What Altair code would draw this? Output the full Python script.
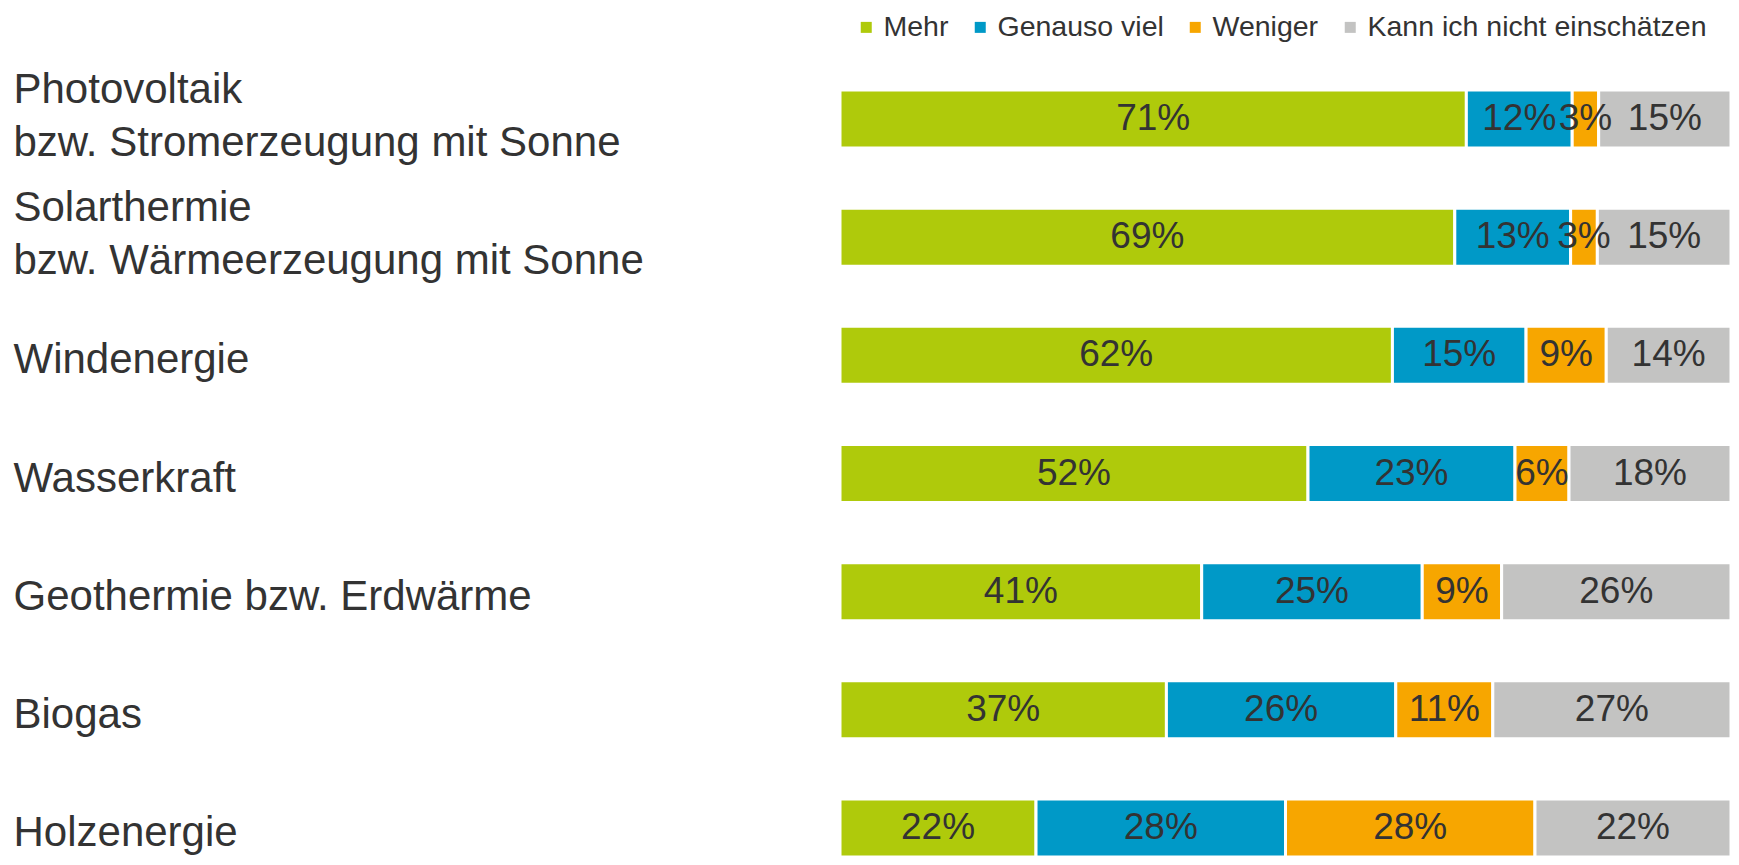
import altair as alt
import pandas as pd

categories = [
    "Photovoltaik\nbzw. Stromerzeugung mit Sonne",
    "Solarthermie\nbzw. Wärmeerzeugung mit Sonne",
    "Windenergie",
    "Wasserkraft",
    "Geothermie bzw. Erdwärme",
    "Biogas",
    "Holzenergie",
]
answers = ["Mehr", "Genauso viel", "Weniger", "Kann ich nicht einschätzen"]
mehr = [71, 69, 62, 52, 41, 37, 22]
genauso = [12, 13, 15, 23, 25, 26, 28]
weniger = [3, 3, 9, 6, 9, 11, 28]
kann_nicht = [15, 15, 14, 18, 26, 27, 22]
colors = ["#AFCA0B", "#0099C7", "#F7A600", "#C3C3C2"]

series = [mehr, genauso, weniger, kann_nicht]
rows = []
for i, cat in enumerate(categories):
    vals = [s[i] for s in series]
    total = sum(vals)
    acc = 0.0
    for j, ans in enumerate(answers):
        start = acc / total
        acc += vals[j]
        end = acc / total
        rows.append({
            "cat": cat, "answer": ans, "order": j, "value": vals[j],
            "start": start, "end": end, "mid": (start + end) / 2,
            "label": f"{vals[j]}%",
        })
df = pd.DataFrame(rows)

y = alt.Y(
    "cat:N", sort=categories, title=None,
    scale=alt.Scale(paddingInner=0.509, paddingOuter=0),
    axis=alt.Axis(
        domain=False, ticks=False, grid=False,
        labelAlign="left", labelPadding=827, labelFontSize=42,
        labelFont="Liberation Sans", labelColor="#333333",
        labelLineHeight=53, labelLimit=0,
        labelOffset={"condition": {"test": "indexof(datum.value, '\\n') >= 0", "value": -29}, "value": 5},
        labelExpr="split(datum.label, '\\n')",
    ),
)
xscale = alt.Scale(domain=[0, 1], nice=False, zero=True)

bars = alt.Chart(df).mark_bar(stroke="white", strokeWidth=3).encode(
    x=alt.X("start:Q", scale=xscale, axis=None),
    x2="end:Q",
    y=y,
    color=alt.Color(
        "answer:N",
        scale=alt.Scale(domain=answers, range=colors),
        sort=answers,
        legend=alt.Legend(
            title=None, orient="none", direction="horizontal",
            legendX=12, legendY=-77, padding=0,
            labelFontSize=28.5, labelFont="Liberation Sans", labelColor="#333333",
            symbolType="square", symbolSize=121, symbolStrokeWidth=0,
            labelOffset=3, columnPadding=17, labelLimit=0,
        ),
    ),
    order="order:Q",
)

texts = alt.Chart(df).mark_text(
    fontSize=37, font="Liberation Sans", color="#333333", baseline="middle", align="center"
).encode(
    x=alt.X("mid:Q", scale=xscale, axis=None),
    y=alt.Y("cat:N", sort=categories),
    text="label:N",
)

chart = alt.layer(bars, texts).properties(
    width=891, height=767,
    autosize=alt.AutoSizeParams(type="none"),
    padding={"left": 832, "top": 82, "right": 0, "bottom": 0},
    background="white",
).configure_view(stroke=None)

chart.save("out.html", embed_options={"renderer": "svg", "actions": False})
